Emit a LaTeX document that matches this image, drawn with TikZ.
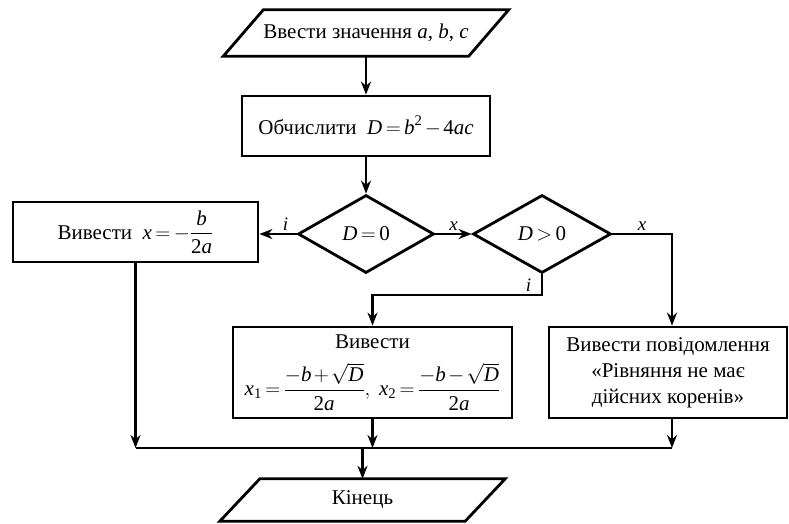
\documentclass[tikz,border=0pt]{standalone}
\usepackage{amsmath}
\usepackage{fontspec}
\setmainfont{Liberation Serif}
\usetikzlibrary{shapes.geometric,arrows.meta}
\newcommand\vi[1]{\textit{#1}}
\newcommand\vn[1]{\textup{#1}}
% tighter spacing around relations and binary operators
\thickmuskip=3mu plus 2mu
\medmuskip=2mu plus 1mu

\begin{document}
\begin{tikzpicture}[x=1pt,y=-1pt,
  every node/.style={font=\fontsize{21}{26}\selectfont, inner sep=0pt},
  line/.style={line width=2.8pt},
  block/.style={draw, line, rectangle, align=center},
  iobox/.style={rectangle, align=center, minimum width=245pt},
  decision/.style={draw, line, diamond},
  arr/.style={line, -{Stealth[length=13pt,width=10pt]}},
  lbl/.style={font=\fontsize{19}{19}\selectfont\itshape}
]
\useasboundingbox (0,0) rectangle (789,523);

% input / output parallelograms are drawn around plain rectangle nodes
\node[iobox, minimum height=46pt] (in) at (366,33) {Ввести значення \vi{a}, \vi{b}, \vi{c}};
\draw[line] ([xshift=-20pt]in.south west) -- ([xshift=20pt]in.north west)
  -- ([xshift=20pt]in.north east) -- ([xshift=-20pt]in.south east) -- cycle;

\node[block, minimum width=248pt, minimum height=60pt] (calc) at (366,126)
  {Обчислити\enspace $\vi{D}=\vi{b}^{\vn{2}}-\vn{4}\vi{ac}$};

\node[decision, minimum width=136pt, minimum height=78pt] (d0) at (366,234) {$\vi{D}=\vn{0}$};
\node[decision, minimum width=138pt, minimum height=78pt] (d1) at (542,234) {$\vi{D}>\vn{0}$};

\node[block, minimum width=245pt, minimum height=60pt] (left) at (135.5,232)
  {Вивести\enspace $\vi{x}=-\dfrac{\vi{b}}{\vn{2}\vi{a}}$};

\node[block, minimum width=279pt, minimum height=91pt] (x1) at (372.5,372.5)
  {Вивести\\[13pt]
   $\vi{x}_{\vn{1}}=\dfrac{-\vi{b}+\sqrt{\vi{D}}}{\vn{2}\vi{a}},\ 
    \vi{x}_{\vn{2}}=\dfrac{-\vi{b}-\sqrt{\vi{D}}}{\vn{2}\vi{a}}$};

\node[block, minimum width=238pt, minimum height=91pt] (msg) at (668,372.5)
  {Вивести повідомлення\\«Рівняння не має\\дійсних коренів»};

\node[iobox, minimum height=42pt] (end) at (362.5,500) {Кінець};
\draw[line] ([xshift=-20pt]end.south west) -- ([xshift=20pt]end.north west)
  -- ([xshift=20pt]end.north east) -- ([xshift=-20pt]end.south east) -- cycle;

% helper coordinates for the bends and the collecting line
\coordinate (rc) at (672,0);
\coordinate (bend) at (0,295);
\coordinate (bus) at (0,448);

\draw[arr] (in) -- (calc);
\draw[arr] (calc) -- (d0);
\draw[arr] (d0.west) -- (d0.west -| left.east)
  node[lbl, pos=0.3, above=2pt] {i};
\draw[arr] (d0.east) -- (d1.west)
  node[lbl, midway, above=2pt] {x};
\draw[arr] (d1.east) -| (rc |- msg.north)
  node[lbl, pos=0.25, above=2pt] {x};
\draw[arr] (d1.south) -- (d1.south |- bend) -| (x1.north)
  node[lbl, pos=0.04, above=2pt] {i};

\draw[arr] (left.south) -- (left.south |- bus);
\draw[arr] (x1.south) -- (x1.south |- bus);
\draw[arr] (rc |- msg.south) -- (rc |- bus);
\draw[line] (left.south |- bus) -- (rc |- bus);
\draw[arr] (end.north |- bus) -- (end.north);
\end{tikzpicture}
\end{document}
